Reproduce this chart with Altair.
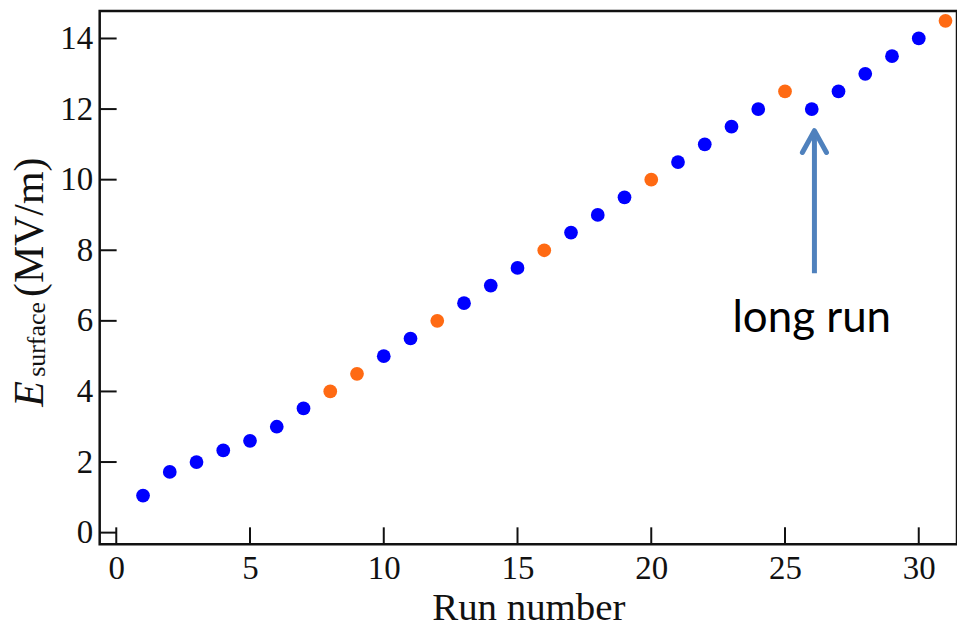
import altair as alt
import pandas as pd

# ---- data ----
run = list(range(1, 32))
e_surface = [1.05, 1.72, 2.0, 2.33, 2.6, 3.0, 3.52, 4.0, 4.5, 5.0, 5.5, 6.0, 6.5, 7.0, 7.5, 8.0,
             8.5, 9.0, 9.5, 10.0, 10.5, 11.0, 11.5, 12.0, 12.5, 12.0, 12.5, 13.0, 13.5, 14.0, 14.5]
highlight_runs = [8, 9, 12, 16, 20, 25, 31]
group = ["orange" if r in highlight_runs else "blue" for r in run]

x_ticks = [0, 5, 10, 15, 20, 25, 30]
y_ticks = [0, 2, 4, 6, 8, 10, 12, 14]

# annotation ("long run" arrow pointing at run 26)
arrow_x = [26.1]
arrow_tail = [7.35]
arrow_tip = [11.39]
head_x = [25.65, 26.1, 26.55]
head_y = [10.77, 11.39, 10.77]
note_x = [26.0]
note_y = [5.69]
note_text = ["long run"]

W, H = 860, 535
xs = alt.Scale(domain=[-0.62, 31.43], nice=False, zero=False)
ys = alt.Scale(domain=[-0.33, 14.78], nice=False, zero=False)

serif = "Liberation Serif"

df = pd.DataFrame({"run": run, "e": e_surface, "group": group})

points = alt.Chart(df).mark_circle(size=190, opacity=1).encode(
    x=alt.X("run:Q", scale=xs,
            axis=alt.Axis(values=x_ticks, ticks=False, domain=False, grid=False,
                          labelFont=serif, labelFontSize=33, labelColor="#111",
                          labelPadding=8, title="Run number", titleFont=serif,
                          titleFontSize=39, titleFontWeight="normal", titleColor="#111",
                          titlePadding=3)),
    y=alt.Y("e:Q", scale=ys,
            axis=alt.Axis(values=y_ticks, ticks=False, domain=False, grid=False,
                          labelFont=serif, labelFontSize=33, labelColor="#111",
                          labelPadding=7, title="")),
    color=alt.Color("group:N", scale=alt.Scale(domain=["blue", "orange"],
                                               range=["#0000FF", "#FF6A13"]), legend=None),
)

xt = alt.Chart(pd.DataFrame({"t": x_ticks})).mark_rule(color="#111", strokeWidth=2).encode(
    x=alt.X("t:Q", scale=xs), y=alt.value(H), y2=alt.value(H - 17))
yt = alt.Chart(pd.DataFrame({"t": y_ticks})).mark_rule(color="#111", strokeWidth=2).encode(
    y=alt.Y("t:Q", scale=ys), x=alt.value(0), x2=alt.value(17))

arrow_color = "#4F81BD"
shaft = alt.Chart(pd.DataFrame({"x": arrow_x, "y": arrow_tail, "y2": arrow_tip})).mark_rule(
    color=arrow_color, strokeWidth=5).encode(
    x=alt.X("x:Q", scale=xs), y=alt.Y("y:Q", scale=ys), y2="y2:Q")
head = alt.Chart(pd.DataFrame({"x": head_x, "y": head_y, "o": [0, 1, 2]})).mark_line(
    color=arrow_color, strokeWidth=5, strokeCap="round", strokeJoin="round").encode(
    x=alt.X("x:Q", scale=xs), y=alt.Y("y:Q", scale=ys), order="o:Q")
note = alt.Chart(pd.DataFrame({"x": note_x, "y": note_y, "t": note_text})).mark_text(
    font="Lato", fontSize=44, color="#000", align="center", baseline="alphabetic").encode(
    x=alt.X("x:Q", scale=xs), y=alt.Y("y:Q", scale=ys), text="t:N")

# y-axis title: E (italic) with subscript "surface", then (MV/m)
yt_E = alt.Chart(pd.DataFrame({"t": ["E"]})).mark_text(
    font=serif, fontSize=42, fontStyle="italic", angle=270, align="left",
    baseline="alphabetic", color="#111").encode(
    text="t:N", x=alt.value(-57), y=alt.value(397))
yt_sub = alt.Chart(pd.DataFrame({"t": ["surface"]})).mark_text(
    font=serif, fontSize=26, angle=270, align="left", baseline="alphabetic",
    color="#111").encode(text="t:N", x=alt.value(-55), y=alt.value(367))
yt_unit = alt.Chart(pd.DataFrame({"t": ["(MV/m)"]})).mark_text(
    font=serif, fontSize=42, angle=270, align="left", baseline="alphabetic",
    color="#111").encode(text="t:N", x=alt.value(-57), y=alt.value(287))

chart = alt.layer(points, xt, yt, shaft, head, note, yt_E, yt_sub, yt_unit).properties(
    width=W, height=H,
    autosize=alt.AutoSizeParams(type="none"),
    padding={"left": 100, "top": 10, "right": 0, "bottom": 83},
    background="white",
).configure_view(stroke="#111", strokeWidth=2.5)

chart.save("out.html", embed_options={"renderer": "svg", "actions": False})
